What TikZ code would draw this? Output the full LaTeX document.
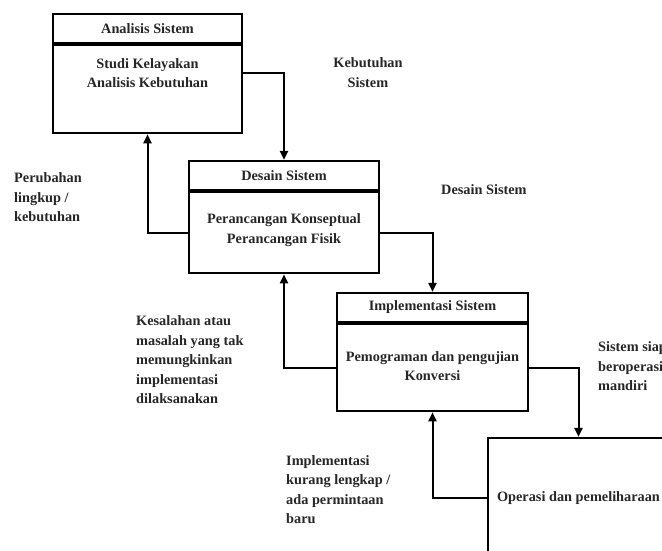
\documentclass[tikz,border=0pt]{standalone}
\usepackage{fontspec}
\setmainfont{Liberation Serif}
\usetikzlibrary{arrows.meta}
\begin{document}
\begin{tikzpicture}[x=1pt,y=-1pt,
  every node/.style={font=\fontsize{14.3}{19.5}\selectfont\bfseries, inner sep=0pt, text=black!85},
  titlebox/.style={draw=black, line width=2.2pt, minimum height=29pt},
  bodybox/.style={draw=black, line width=2.2pt, anchor=north},
  flow/.style={draw=black, line width=2pt, -{Triangle[length=9pt,width=8pt]}},
  lbl/.style={align=left},
  clbl/.style={align=center}
]
\useasboundingbox (0,0) rectangle (662,551);
\clip (0,0) rectangle (662,551);

% --- Analisis Sistem
\node[titlebox, minimum width=189pt] (At) at (147.5,28.5) {Analisis Sistem};
\node[bodybox, minimum width=189pt, minimum height=88pt] (Ab) at (At.south) {};
\node[clbl] (Ax) at (147.5,73) {Studi Kelayakan\\Analisis Kebutuhan};

% --- Desain Sistem
\node[titlebox, minimum width=190pt] (Dt) at (284,175.5) {Desain Sistem};
\node[bodybox, minimum width=190pt, minimum height=81pt] (Db) at (Dt.south) {};
\node[clbl] (Dx) at (284,230) {Perancangan Konseptual\\Perancangan Fisik};

% --- Implementasi Sistem
\node[titlebox, minimum width=191pt] (It) at (432.5,307.5) {Implementasi Sistem};
\node[bodybox, minimum width=191pt, minimum height=87pt] (Ib) at (It.south) {};
\node[clbl] (Ix) at (432.5,366) {Pemograman dan pengujian\\Konversi};

% --- Operasi dan pemeliharaan
\node[draw=black, line width=2.2pt, minimum width=181pt, minimum height=120pt] (O) at (578.5,498) {Operasi dan pemeliharaan};

% --- connectors
\draw[flow] (Ab.east |- Ax) -| (Dt.north);
\draw[flow] (Db.west) -| (Ab.south);
\draw[flow] (Db.east) -| (It.north);
\draw[flow] (Ib.west) -| (Db.south);
\draw[flow] (Ib.east) -| (O.north);
\draw[flow] (O.west) -| (Ib.south);

% --- labels
\node[clbl] (L1) at (368,72.5) {Kebutuhan\\Sistem};
\node[lbl, anchor=west] (L2) at (441,190) {Desain Sistem};
\node[lbl, anchor=west] (L3) at (14,197.5) {Perubahan\\lingkup /\\kebutuhan};
\node[lbl, anchor=west] (L4) at (136,360) {Kesalahan atau\\masalah yang tak\\memungkinkan\\implementasi\\dilaksanakan};
\node[lbl, anchor=west] (L5) at (286,489.5) {Implementasi\\kurang lengkap /\\ada permintaan\\baru};
\node[lbl, anchor=west] (L6) at (598,366.5) {Sistem siap\\beroperasi\\mandiri};
\end{tikzpicture}
\end{document}
